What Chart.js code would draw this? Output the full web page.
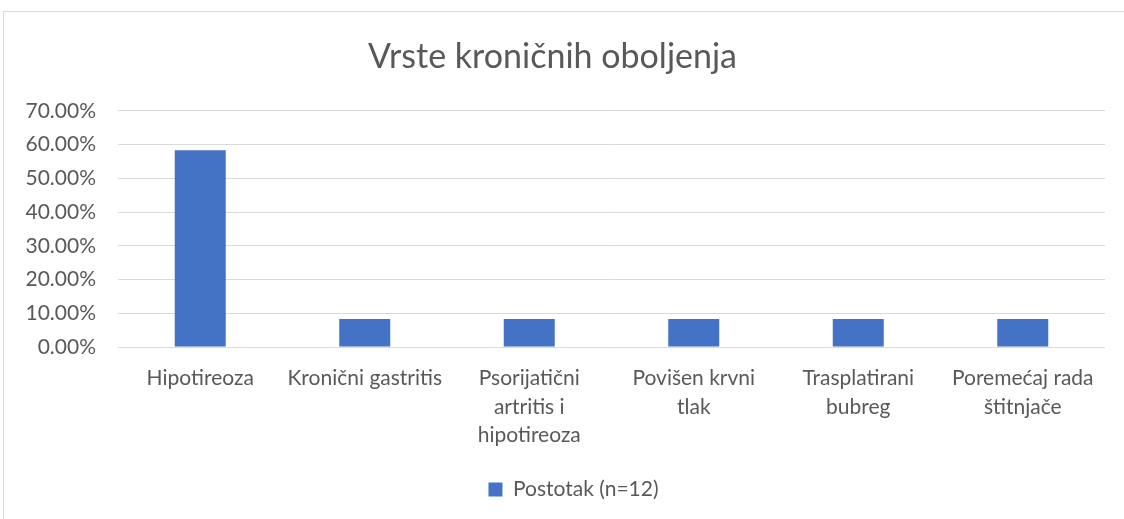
<!DOCTYPE html>
<html>
<head>
<meta charset="utf-8">
<script src="https://cdn.jsdelivr.net/npm/chart.js@4"></script>
<style>
  html, body { margin: 0; padding: 0; background: #fff; overflow: hidden; }
  #frame { position: absolute; left: 3px; top: 11px; width: 1200px; height: 600px; border: 1px solid #d9d9d9; box-sizing: border-box; }
  #chart { position: absolute; left: 0; top: 0; }
</style>
</head>
<body>
<div id="frame"></div>
<canvas id="chart" width="1124" height="519"></canvas>
<script>
'use strict';

const CATEGORIES = [
    ['Hipotireoza'],
    ['Kronični gastritis'],
    ['Psorijatični', 'artritis i', 'hipotireoza'],
    ['Povišen krvni', 'tlak'],
    ['Trasplatirani', 'bubreg'],
    ['Poremećaj rada', 'štitnjače'],
];
const PERCENT = [58.33, 8.33, 8.33, 8.33, 8.33, 8.33];
const SERIES_LABEL = 'Postotak (n=12)';
const TITLE = 'Vrste kroničnih oboljenja';
const Y_MAX = 70;
const Y_STEP = 10;

const FONT = 'Lato, "Open Sans", sans-serif';
const TEXT = '#595959';
const GRID = '#d9d9d9';
const BLUE = '#4472c4';

// legend sits a bit right of the plot centre in the original
const nudgeLegend = {
    id: 'nudgeLegend',
    afterLayout(chart) {
        const lg = chart.legend;
        if (lg) { lg.left += 21; lg.right += 21; }
    }
};

new Chart(document.getElementById('chart'), {
    type: 'bar',
    data: {
        labels: CATEGORIES,
        datasets: [{
            label: SERIES_LABEL,
            data: PERCENT,
            backgroundColor: BLUE,
            borderWidth: 0,
            categoryPercentage: 1,
            barPercentage: 0.31
        }]
    },
    options: {
        responsive: false,
        animation: false,
        layout: { padding: { left: 0, right: 19, top: 0, bottom: 9 } },
        plugins: {
            title: {
                display: true, text: TITLE, color: TEXT,
                font: { family: FONT, size: 34, weight: 'normal', lineHeight: 1.2 },
                padding: { top: 37, bottom: 33 }
            },
            legend: {
                position: 'bottom',
                labels: { color: TEXT, font: { family: FONT, size: 21 }, boxWidth: 14, boxHeight: 14, padding: 10 }
            },
            tooltip: { enabled: false }
        },
        scales: {
            x: {
                afterFit: s => { s.height = 122; },
                grid: { display: false },
                border: { display: false },
                ticks: { color: TEXT, font: { family: FONT, size: 21, lineHeight: 1.36 }, maxRotation: 0, autoSkip: false, padding: 9 }
            },
            y: {
                min: 0, max: Y_MAX,
                afterFit: s => { s.width = 118; },
                grid: { color: GRID, lineWidth: 1, drawTicks: false },
                border: { display: false },
                ticks: {
                    stepSize: Y_STEP, color: TEXT, padding: 22,
                    font: { family: FONT, size: 21 },
                    callback: v => v.toFixed(2) + '%'
                }
            }
        }
    },
    plugins: [nudgeLegend]
});
</script>
</body>
</html>
